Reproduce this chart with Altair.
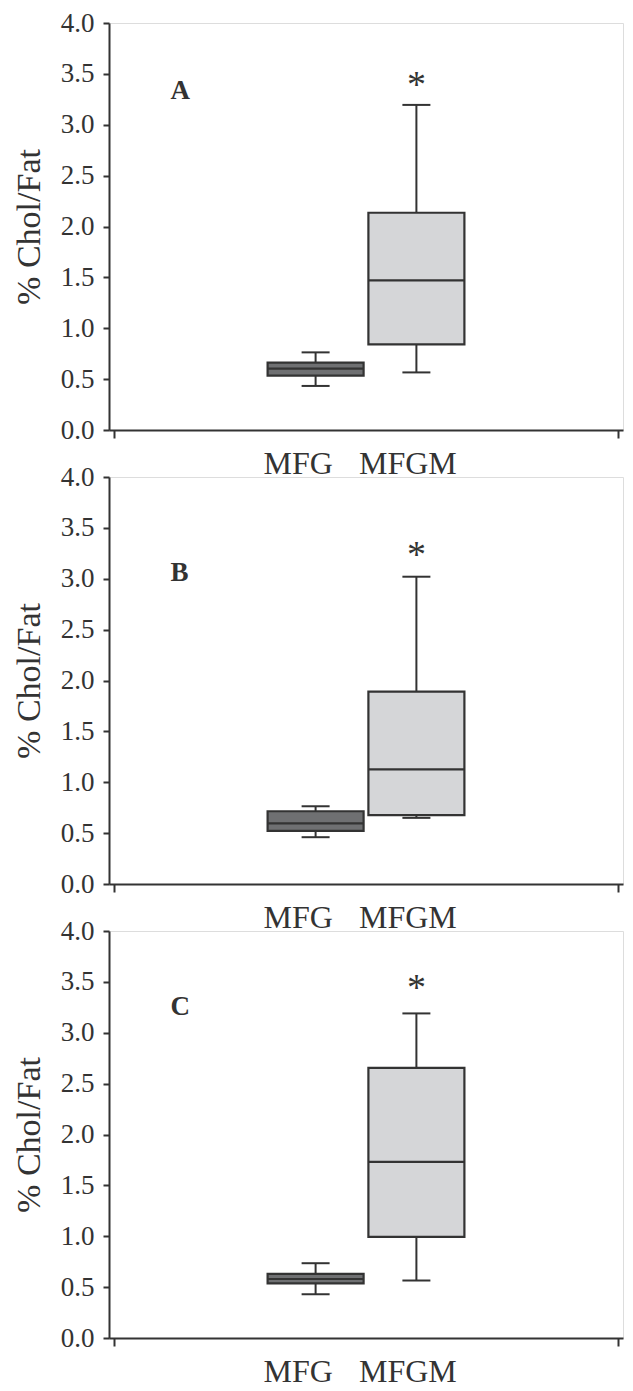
import altair as alt
import pandas as pd

categories = ["MFG", "MFGM"]
cat_pos = [2, 3]

panel_names = ["A", "B", "C"]
low = {"A": [0.433, 0.566], "B": [0.46, 0.65], "C": [0.43, 0.565]}
q1 = {"A": [0.534, 0.842], "B": [0.522, 0.676], "C": [0.536, 0.993]}
median = {"A": [0.603, 1.47], "B": [0.595, 1.127], "C": [0.58, 1.73]}
q3 = {"A": [0.662, 2.135], "B": [0.715, 1.89], "C": [0.63, 2.655]}
high = {"A": [0.763, 3.195], "B": [0.764, 3.02], "C": [0.735, 3.19]}

star_y = {"A": 3.27, "B": 3.115, "C": 3.32}
label_y = {"A": 3.25, "B": 2.98, "C": 3.17}
label_x = 0.56

y_ticks = [0.0, 0.5, 1.0, 1.5, 2.0, 2.5, 3.0, 3.5, 4.0]

FONT = "Liberation Serif"
INK = "#333333"
W, H = 514, 407


def make_panel(p):
    df = pd.DataFrame({
        "cat": categories, "pos": cat_pos,
        "low": low[p], "q1": q1[p], "median": median[p],
        "q3": q3[p], "high": high[p],
    })
    xs = alt.Scale(domain=[0, 5], nice=False, zero=False)
    ys = alt.Scale(domain=[0, 4], nice=False)
    x_axis = alt.Axis(
        values=[0, 2, 3, 5],
        labelExpr="datum.value == 2 ? 'MFG' : (datum.value == 3 ? 'MFGM' : '')",
        title=None, grid=False, domainColor=INK, domainWidth=2,
        tickSize=8, tickWidth=2,
        tickColor={"condition": {"test": "datum.value == 2 || datum.value == 3", "value": "transparent"}, "value": INK},
        labelOffset={"condition": {"test": "datum.value == 2", "value": -18}, "value": -9},
        labelFont=FONT, labelFontSize=32, labelColor=INK, labelPadding=10,
    )
    y_axis = alt.Axis(
        values=y_ticks, format=".1f", title="% Chol/Fat", grid=False,
        domainColor=INK, domainWidth=2, tickColor=INK, tickWidth=2, tickSize=6,
        labelFont=FONT, labelFontSize=27, labelColor=INK, labelPadding=9,
        titleFont=FONT, titleFontSize=34, titleFontWeight="normal", titleColor=INK,
        titlePadding=14,
    )
    base = alt.Chart(df)
    x_enc = alt.X("pos:Q", scale=xs, axis=x_axis)
    whisker = base.mark_rule(color=INK, strokeWidth=2, opacity=1).encode(
        x=x_enc, y=alt.Y("low:Q", scale=ys, axis=y_axis), y2="high:Q")
    cap_lo = base.mark_tick(orient="horizontal", size=28, thickness=2, color=INK, opacity=1).encode(
        x="pos:Q", y="low:Q")
    cap_hi = base.mark_tick(orient="horizontal", size=28, thickness=2, color=INK, opacity=1).encode(
        x="pos:Q", y="high:Q")
    box = base.mark_bar(size=96, stroke=INK, strokeWidth=2.2, opacity=1).encode(
        x="pos:Q", y="q1:Q", y2="q3:Q",
        fill=alt.Fill("cat:N", scale=alt.Scale(domain=categories, range=["#6f7072", "#d5d6d8"]), legend=None))
    med = base.mark_tick(orient="horizontal", size=96, thickness=2.2, color=INK, opacity=1).encode(
        x="pos:Q", y="median:Q")
    star = alt.Chart(pd.DataFrame({"x": [cat_pos[1]], "y": [star_y[p]], "t": ["*"]})).mark_text(
        font=FONT, fontSize=38, color=INK, baseline="alphabetic", align="center").encode(
        x="x:Q", y="y:Q", text="t:N")
    lab = alt.Chart(pd.DataFrame({"x": [label_x], "y": [label_y[p]], "t": [p]})).mark_text(
        font=FONT, fontSize=27, fontWeight="bold", color=INK, baseline="alphabetic", align="left").encode(
        x="x:Q", y="y:Q", text="t:N")
    return alt.layer(whisker, cap_lo, cap_hi, box, med, star, lab).properties(width=W, height=H)


chart = alt.vconcat(*[make_panel(p) for p in panel_names], spacing=47).properties(
    bounds="flush", padding={"left": 3, "top": 0, "right": 0, "bottom": 0}
).configure_view(stroke=None).configure(background="white")

chart.save("out.html", embed_options={"renderer": "svg", "actions": False})
